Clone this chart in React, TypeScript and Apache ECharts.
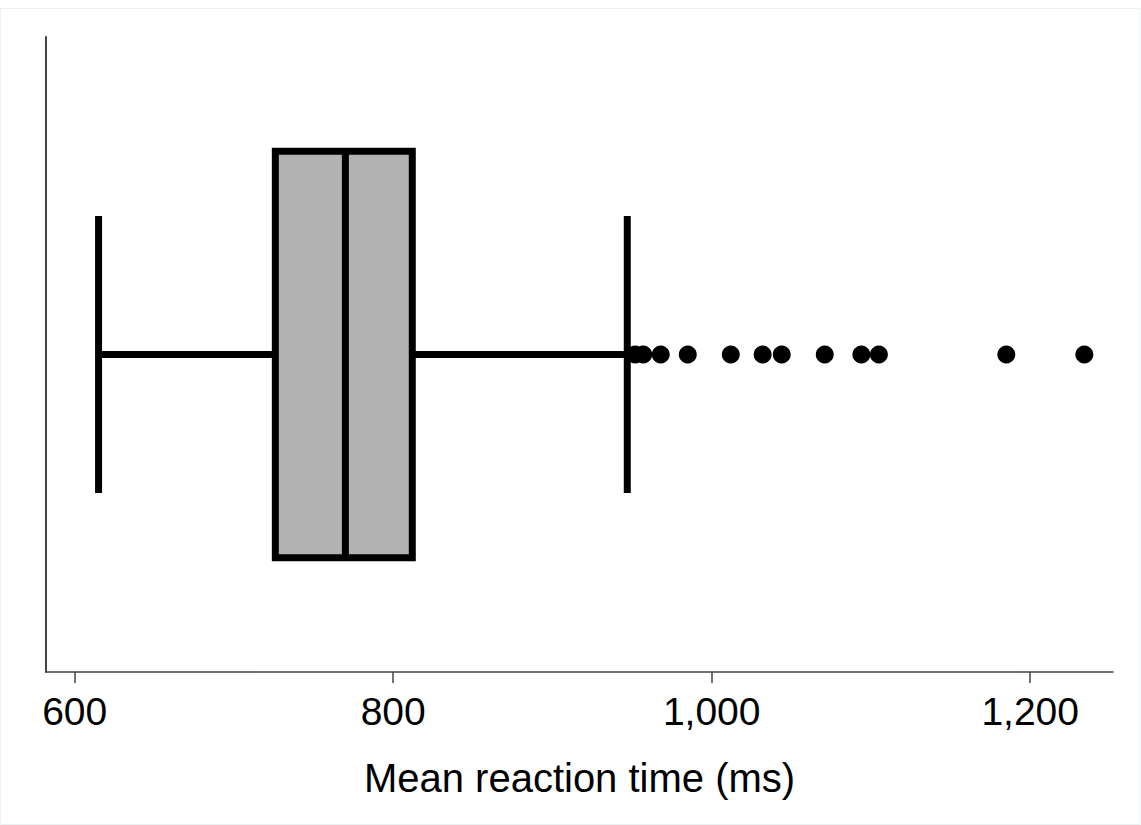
import React, { useEffect, useRef } from "react";
import * as echarts from "echarts";

// Box statistics: [lower whisker, Q1, median, Q3, upper whisker]
const boxStats: number[] = [615, 726, 770, 812, 947];
// Outlying values (ms)
const outliers: number[] = [952, 957, 968, 985, 1012, 1032, 1044, 1071, 1094, 1105, 1185, 1234];
const tickValues: number[] = [600, 800, 1000, 1200];
const axisTitle = "Mean reaction time (ms)";

const FONT = "'Liberation Sans', Arial, sans-serif";

export default function App() {
  const ref = useRef<HTMLDivElement>(null);

  useEffect(() => {
    if (!ref.current) return;
    const chart = echarts.init(ref.current, undefined, { renderer: "svg" });
    const yc = 0.5;
    const boxHalf = 0.32;
    const capHalf = 0.218;

    chart.setOption({
      animation: false,
      backgroundColor: "#ffffff",
      grid: { left: 46, top: 37, right: 28, bottom: 153, containLabel: false },
      graphic: [
        {
          type: "rect",
          shape: { x: 0.5, y: 8.5, width: 1139.5, height: 816 },
          style: { fill: "none", stroke: "#eaf1f3", lineWidth: 1 },
          silent: true,
        },
      ],
      xAxis: {
        type: "value",
        min: 582,
        max: 1252,
        name: axisTitle,
        nameLocation: "middle",
        nameGap: 86,
        nameTextStyle: { fontFamily: FONT, fontSize: 40, color: "#000" },
        axisLine: { show: true, lineStyle: { color: "#444", width: 1.5 } },
        axisTick: {
          show: true,
          length: 11,
          customValues: tickValues,
          lineStyle: { color: "#444", width: 1.5 },
        },
        axisLabel: {
          show: true,
          customValues: tickValues,
          margin: 20,
          fontFamily: FONT,
          fontSize: 39,
          color: "#000",
          formatter: (v: number) => v.toLocaleString("en-US"),
        },
        splitLine: { show: false },
      },
      yAxis: {
        type: "value",
        min: 0,
        max: 1,
        axisLine: { show: true, lineStyle: { color: "#444", width: 2 } },
        axisTick: { show: false },
        axisLabel: { show: false },
        splitLine: { show: false },
      },
      series: [
        {
          type: "custom",
          data: [boxStats],
          encode: { x: [0, 1, 2, 3, 4] },
          renderItem: (params: any, api: any) => {
            const low = api.value(0);
            const q1 = api.value(1);
            const med = api.value(2);
            const q3 = api.value(3);
            const high = api.value(4);
            const p = (v: number, y: number) => api.coord([v, y]);
            const lw = 7;
            const lineStyle = { stroke: "#000", lineWidth: lw, fill: "none" };
            const boxTL = p(q1, yc + boxHalf);
            const boxBR = p(q3, yc - boxHalf);
            const mid = p(low, yc);
            return {
              type: "group",
              children: [
                {
                  type: "line",
                  shape: { x1: p(low, yc)[0], y1: mid[1], x2: p(q1, yc)[0], y2: mid[1] },
                  style: lineStyle,
                },
                {
                  type: "line",
                  shape: { x1: p(q3, yc)[0], y1: mid[1], x2: p(high, yc)[0], y2: mid[1] },
                  style: lineStyle,
                },
                {
                  type: "line",
                  shape: {
                    x1: p(low, yc)[0],
                    y1: p(low, yc + capHalf)[1],
                    x2: p(low, yc)[0],
                    y2: p(low, yc - capHalf)[1],
                  },
                  style: lineStyle,
                },
                {
                  type: "line",
                  shape: {
                    x1: p(high, yc)[0],
                    y1: p(high, yc + capHalf)[1],
                    x2: p(high, yc)[0],
                    y2: p(high, yc - capHalf)[1],
                  },
                  style: lineStyle,
                },
                {
                  type: "rect",
                  shape: {
                    x: boxTL[0],
                    y: boxTL[1],
                    width: boxBR[0] - boxTL[0],
                    height: boxBR[1] - boxTL[1],
                  },
                  style: { fill: "#b3b3b3", stroke: "#000", lineWidth: lw },
                },
                {
                  type: "line",
                  shape: {
                    x1: p(med, yc)[0],
                    y1: boxTL[1],
                    x2: p(med, yc)[0],
                    y2: boxBR[1],
                  },
                  style: lineStyle,
                },
              ],
            };
          },
          z: 2,
        },
        {
          type: "scatter",
          data: outliers.map((v) => [v, yc]),
          symbol: "circle",
          symbolSize: 18,
          itemStyle: { color: "#000", opacity: 1 },
          z: 3,
        },
      ],
    });

    return () => chart.dispose();
  }, []);

  return (
    <div
      ref={ref}
      style={{ position: "fixed", left: 0, top: 0, width: 1141, height: 825, background: "#fff" }}
    />
  );
}
